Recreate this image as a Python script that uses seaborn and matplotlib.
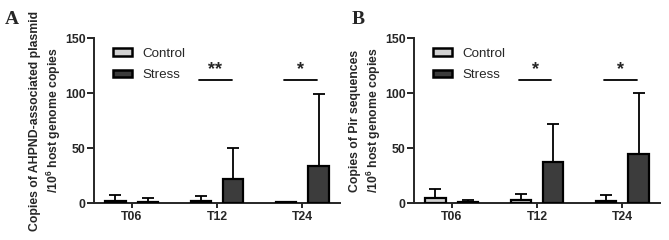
import numpy as np
import pandas as pd
import matplotlib
matplotlib.use("Agg")
import matplotlib.pyplot as plt
import seaborn as sns

# Data (mean and upper SD end)
times = ["T06", "T12", "T24"]
groups = ["Control", "Stress"]

plasmid_control = [2.0, 1.5, 1.0]
plasmid_control_top = [7.0, 6.0, 1.0]
plasmid_stress = [0.5, 22.0, 34.0]
plasmid_stress_top = [5.0, 50.0, 99.0]
plasmid_stars = ["", "**", "*"]

pir_control = [4.3, 3.0, 1.5]
pir_control_top = [12.5, 8.5, 7.0]
pir_stress = [1.0, 37.5, 45.0]
pir_stress_top = [2.5, 72.0, 100.0]
pir_stars = ["", "*", "*"]

sns.set_style("ticks")
plt.rcParams['font.family'] = ['Liberation Sans', 'DejaVu Sans']
plt.rcParams['mathtext.fontset'] = 'custom'
plt.rcParams['mathtext.bf'] = 'Liberation Sans:bold'
plt.rcParams['mathtext.rm'] = 'Liberation Sans'

palette = {"Control": "#d2d2d2", "Stress": "#3c3c3c"}
offset = 0.19


def draw_panel(ax, ctrl, ctrl_top, stress, stress_top, stars, ylabel, letter):
    df = pd.DataFrame({
        "time": times * 2,
        "group": ["Control"] * 3 + ["Stress"] * 3,
        "value": ctrl + stress,
    })
    sns.barplot(data=df, x="time", y="value", hue="group", hue_order=groups,
                palette=palette, width=0.76, gap=0.37, errorbar=None,
                edgecolor="black", linewidth=1.6, ax=ax, zorder=3)

    # upper-only error bars
    pos = np.arange(len(times))
    for shift, mean, top in [(-offset, ctrl, ctrl_top), (offset, stress, stress_top)]:
        mean = np.array(mean)
        err = np.array(top) - mean
        ax.errorbar(pos + shift, mean, yerr=[np.zeros_like(err), err], fmt="none",
                    ecolor="black", elinewidth=1.3, capsize=4, capthick=1.3, zorder=2)

    # significance marks
    for i, s in enumerate(stars):
        if s:
            ax.plot([i - offset - 0.02, i + offset - 0.02], [112, 112], color="black", lw=1.3)
            ax.text(i - 0.02, 114, s, ha="center", va="bottom", fontsize=13, fontweight="bold")

    ax.set_ylim(0, 150)
    ax.set_xlim(-0.44, 2.44)
    ax.set_yticks([0, 50, 100, 150])
    ax.set_xlabel("")
    ax.set_ylabel(ylabel, fontsize=8.8, fontweight="bold", linespacing=1.3)
    ax.yaxis.set_label_coords(-0.125, 0.5)
    sns.despine(ax=ax)
    for sp in ["left", "bottom"]:
        ax.spines[sp].set_linewidth(1.4)
    ax.tick_params(axis="both", width=1.4, labelsize=8.8)
    ax.tick_params(axis="y", length=5, pad=1)
    ax.tick_params(axis="x", length=3.5, pad=2)
    for lab in ax.get_xticklabels() + ax.get_yticklabels():
        lab.set_fontweight("bold")

    ax.legend(loc="upper left", bbox_to_anchor=(0.03, 1.015), frameon=False,
              fontsize=9.6, handlelength=1.4, handleheight=0.5, labelspacing=0.72,
              handletextpad=0.75)
    for h in ax.get_legend().legend_handles:
        h.set_linewidth(1.8)

    ax.figure.text(letter[1], 0.92, letter[0], fontsize=14, fontweight="bold",
                   family="Liberation Serif", ha="left", va="center")


fig = plt.figure(figsize=(6.69, 2.4), dpi=100)
axA = fig.add_axes([0.1405, 0.154, 0.3677, 0.6875])
axB = fig.add_axes([0.6188, 0.154, 0.3677, 0.6875])

draw_panel(axA, plasmid_control, plasmid_control_top, plasmid_stress, plasmid_stress_top,
           plasmid_stars, "Copies of AHPND-associated plasmid\n/10$^{\\mathbf{6}}$ host genome copies",
           ("A", 0.007))
draw_panel(axB, pir_control, pir_control_top, pir_stress, pir_stress_top,
           pir_stars, "Copies of Pir sequences\n/10$^{\\mathbf{6}}$ host genome copies",
           ("B", 0.526))

fig.savefig("out.png", dpi=100)
